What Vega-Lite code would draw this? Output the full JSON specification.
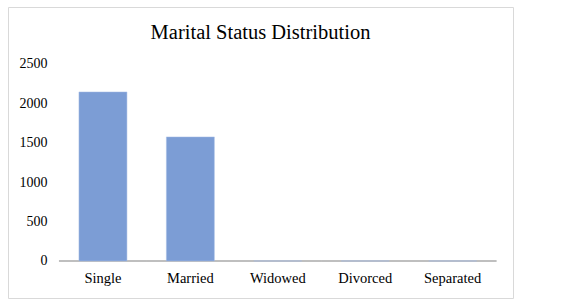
{
  "$schema": "https://vega.github.io/schema/vega-lite/v6.json",
  "width": 505,
  "height": 291,
  "autosize": {"type": "none"},
  "padding": {"left": 8, "top": 7, "right": 48, "bottom": 9},
  "background": "white",
  "config": {
    "font": "Liberation Serif",
    "view": {"stroke": "#d9d9d9", "strokeWidth": 1}
  },
  "title": {
    "text": "Marital Status Distribution",
    "font": "Liberation Serif",
    "fontSize": 20.5,
    "fontWeight": "normal",
    "color": "#000000",
    "anchor": "middle",
    "frame": "group",
    "baseline": "alphabetic",
    "offset": -52
  },
  "data": {
    "values": [
      {"status": "Single", "count": 2145},
      {"status": "Married", "count": 1574},
      {"status": "Widowed", "count": 0},
      {"status": "Divorced", "count": 0},
      {"status": "Separated", "count": 0}
    ]
  },
  "encoding": {
    "x": {
      "field": "status",
      "type": "nominal",
      "sort": null,
      "scale": {"paddingInner": 0.451, "paddingOuter": 0.614, "align": 0.661},
      "axis": {
        "title": null,
        "orient": "bottom",
        "offset": -37,
        "domain": false,
        "ticks": false,
        "labelAngle": 0,
        "labelFont": "Liberation Serif",
        "labelFontSize": 14.5,
        "labelColor": "#000000",
        "labelPadding": 10
      }
    }
  },
  "layer": [
    {
      "mark": {"type": "tick", "color": "#bfbfbf", "size": 88, "thickness": 2, "opacity": 1},
      "encoding": {"y": {"datum": 0, "type": "quantitative"}}
    },
    {
      "mark": {"type": "bar", "color": "#7c9dd5", "stroke": "#a9bfe6", "strokeWidth": 0.5},
      "encoding": {
        "y": {
          "field": "count",
          "type": "quantitative",
          "scale": {"domain": [-470, 3223], "nice": false, "zero": false},
          "axis": {
            "title": null,
            "orient": "left",
            "offset": -43,
            "domain": false,
            "ticks": false,
            "grid": false,
            "format": "d",
            "values": [0, 500, 1000, 1500, 2000, 2500],
            "labelFont": "Liberation Serif",
            "labelFontSize": 14,
            "labelColor": "#000000",
            "labelPadding": 4
          }
        },
        "y2": {"datum": 0}
      }
    }
  ]
}
